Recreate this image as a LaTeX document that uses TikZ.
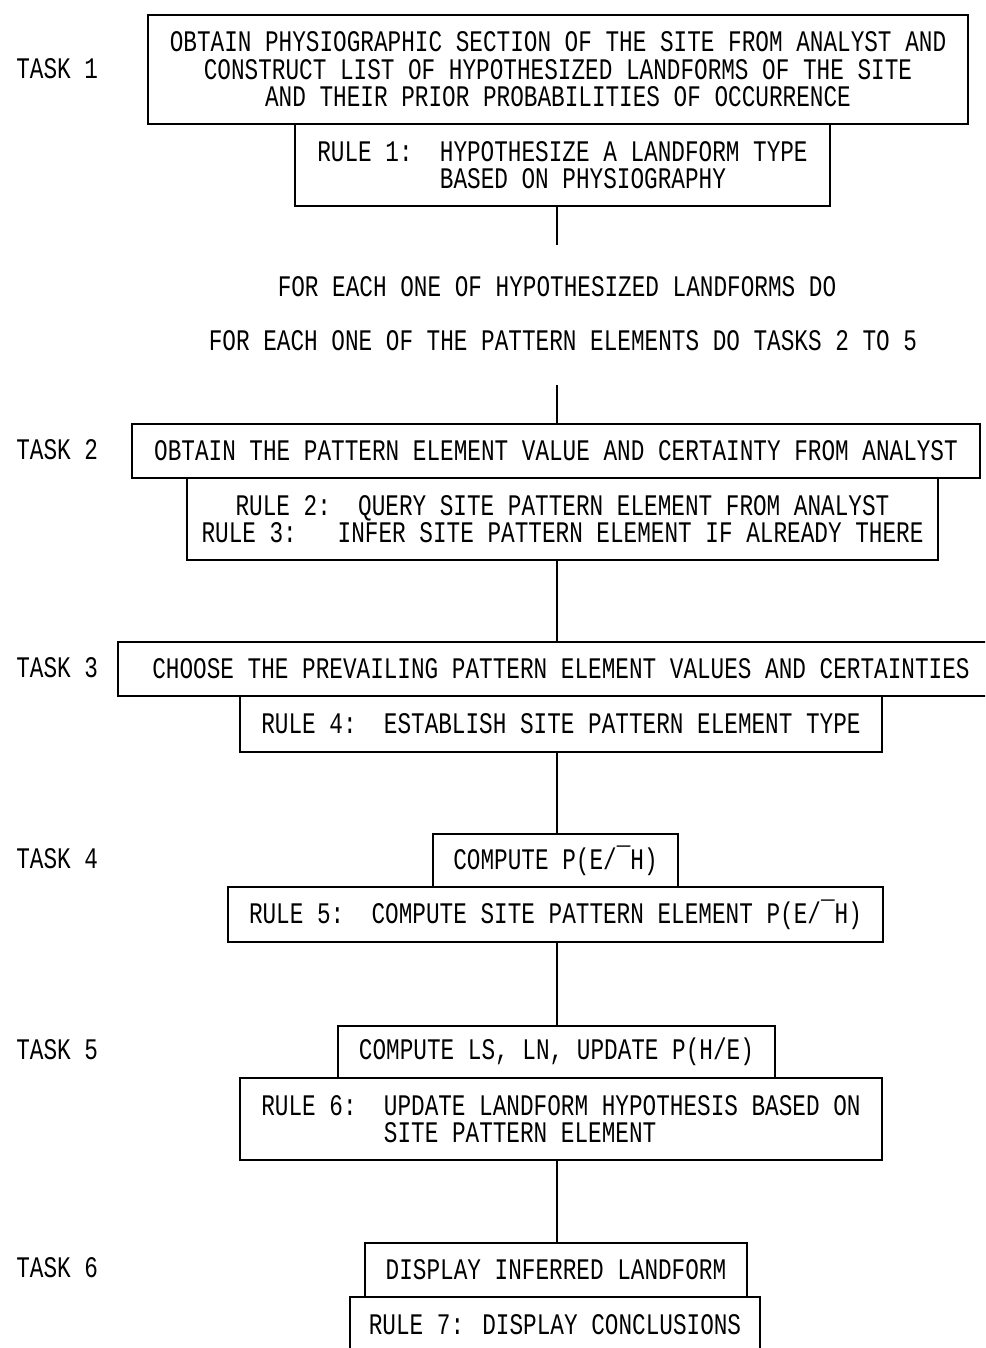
\documentclass[tikz,border=0pt]{standalone}
\usepackage{fontspec}
\newfontfamily\typefont[FakeStretch=0.76]{Liberation Mono}
\tikzset{
  box/.style={draw, line width=1pt, inner sep=0pt, align=center},
  ruletext/.style={box, align=left},
  tasklabel/.style={anchor=west, inner sep=0pt},
}
\begin{document}
\begin{tikzpicture}[x=0.02cm, y=-0.02cm, font=\typefont\fontsize{17}{15.7}\selectfont]
\useasboundingbox (0,0) rectangle (985,1348);
\clip (0,0) rectangle (985,1348);
% task 1 and rule 1
\node[box, minimum width=16.4cm, minimum height=2.18cm] (task1) at (558,69.5)
  {OBTAIN PHYSIOGRAPHIC SECTION OF THE SITE FROM ANALYST AND\\
   CONSTRUCT LIST OF HYPOTHESIZED LANDFORMS OF THE SITE\\
   AND THEIR PRIOR PROBABILITIES OF OCCURRENCE};
\node[ruletext, minimum width=10.7cm, minimum height=1.64cm] (rule1) at (562.5,165)
  {RULE 1:\ \ HYPOTHESIZE A LANDFORM TYPE\\
   \phantom{RULE 1:\ \ }BASED ON PHYSIOGRAPHY};
% loops
\coordinate (loopin) at (557,245);
\node (loopa) at (557,287) {FOR EACH ONE OF HYPOTHESIZED LANDFORMS DO};
\node (loopb) at (563,341) {FOR EACH ONE OF THE PATTERN ELEMENTS DO TASKS 2 TO 5};
\coordinate (loopout) at (557,385);
% task 2
\node[box, minimum width=16.96cm, minimum height=1.08cm] (task2) at (556,451)
  {OBTAIN THE PATTERN ELEMENT VALUE AND CERTAINTY FROM ANALYST};
\node[box, minimum width=15.02cm, minimum height=1.64cm] (rule23) at (562.5,519)
  {RULE 2:\ \ QUERY SITE PATTERN ELEMENT FROM ANALYST\\
   RULE 3:\ \ \ INFER SITE PATTERN ELEMENT IF ALREADY THERE};
% task 3
\node[box, minimum width=17.72cm, minimum height=1.08cm] (task3) at (561,669)
  {CHOOSE THE PREVAILING PATTERN ELEMENT VALUES AND CERTAINTIES};
\node[box, minimum width=12.84cm, minimum height=1.12cm] (rule4) at (561,724)
  {RULE 4:\ \ ESTABLISH SITE PATTERN ELEMENT TYPE};
% task 4
\node[box, minimum width=4.9cm, minimum height=1.06cm] (task4) at (555.5,860.5)
  {COMPUTE P(E/¯H)};
\node[box, minimum width=13.1cm, minimum height=1.1cm] (rule5) at (555.5,914.5)
  {RULE 5:\ \ COMPUTE SITE PATTERN ELEMENT P(E/¯H)};
% task 5
\node[box, minimum width=8.74cm, minimum height=1.04cm] (task5) at (556.5,1052)
  {COMPUTE LS, LN, UPDATE P(H/E)};
\node[ruletext, minimum width=12.84cm, minimum height=1.64cm] (rule6) at (561,1119)
  {RULE 6:\ \ UPDATE LANDFORM HYPOTHESIS BASED ON\\
   \phantom{RULE 6:\ \ }SITE PATTERN ELEMENT};
% task 6
\node[box, minimum width=7.64cm, minimum height=1.08cm] (task6) at (556,1270)
  {DISPLAY INFERRED LANDFORM};
\node[box, minimum width=8.2cm, minimum height=1.12cm] (rule7) at (555,1325)
  {RULE 7: DISPLAY CONCLUSIONS};
% task labels
\foreach \n/\y in {1/69, 2/450, 3/668, 4/859, 5/1050, 6/1268}
  \node[tasklabel] (label\n) at (16,\y) {TASK \n};
% connectors
\draw[line width=1pt] (loopin |- rule1.south) -- (loopin);
\draw[line width=1pt] (loopout) -- (loopout |- task2.north);
\draw[line width=1pt] (loopout |- rule23.south) -- (loopout |- task3.north);
\draw[line width=1pt] (loopout |- rule4.south) -- (loopout |- task4.north);
\draw[line width=1pt] (loopout |- rule5.south) -- (loopout |- task5.north);
\draw[line width=1pt] (loopout |- rule6.south) -- (loopout |- task6.north);
\end{tikzpicture}
\end{document}
